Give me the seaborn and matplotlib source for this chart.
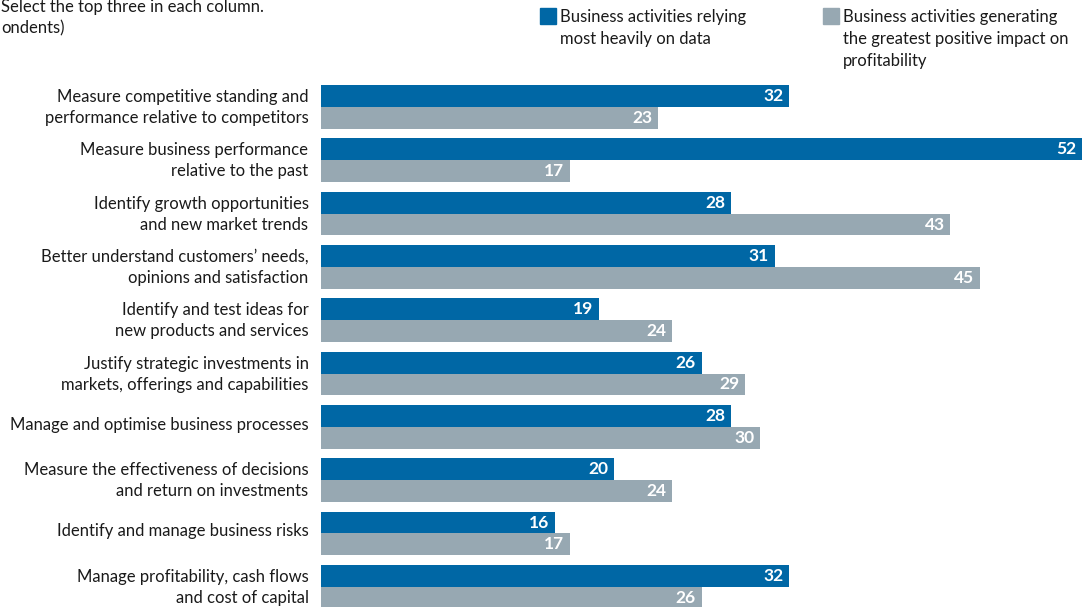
import matplotlib
matplotlib.use("Agg")
import matplotlib.pyplot as plt
import matplotlib.transforms as mtransforms
import seaborn as sns
import pandas as pd

categories = [
    "Measure competitive standing and\nperformance relative to competitors",
    "Measure business performance\nrelative to the past",
    "Identify growth opportunities\nand new market trends",
    "Better understand customers\u2019 needs,\nopinions and satisfaction",
    "Identify and test ideas for\nnew products and services",
    "Justify strategic investments in\nmarkets, offerings and capabilities",
    "Manage and optimise business processes",
    "Measure the effectiveness of decisions\nand return on investments",
    "Identify and manage business risks",
    "Manage profitability, cash flows\nand cost of capital",
]
series_names = [
    "Business activities relying\nmost heavily on data",
    "Business activities generating\nthe greatest positive impact on\nprofitability",
]
relying = [32, 52, 28, 31, 19, 26, 28, 20, 16, 32]
impact = [23, 17, 43, 45, 24, 29, 30, 24, 17, 26]
colors = ["#0067A5", "#97A8B2"]

df = pd.DataFrame({
    "Activity": categories * 2,
    "Series": [series_names[0]] * len(categories) + [series_names[1]] * len(categories),
    "Value": relying + impact,
})

sns.set_theme(style="white")
plt.rcParams["font.family"] = ["Lato", "DejaVu Sans"]

fig = plt.figure(figsize=(10.92, 6.07), dpi=100)
ax = fig.add_axes([321 / 1092, 0.0, (1082 - 321) / 1092, 1 - 85.1 / 607])

sns.barplot(data=df, y="Activity", x="Value", hue="Series", orient="h",
            palette=colors, width=0.82, ax=ax, legend=False, saturation=1,
            linewidth=0)

ax.set_xlim(0, 52)
ax.set_ylim(9.38, -0.41)
ax.set_xlabel("")
ax.set_ylabel("")
ax.set_xticks([])
for s in ax.spines.values():
    s.set_visible(False)
ax.tick_params(axis="y", length=0, pad=9, labelsize=12, labelcolor="#1a1a1a")
shift = mtransforms.ScaledTranslation(0, 2.5 / 72, fig.dpi_scale_trans)
for lbl in ax.get_yticklabels():
    lbl.set_linespacing(1.4)
    lbl.set_transform(lbl.get_transform() + shift)

for p in ax.patches:
    w = p.get_width()
    if w <= 0:
        continue
    ax.annotate(f"{int(round(w))}", (w, p.get_y() + p.get_height() / 2),
                xytext=(-4, 0), textcoords="offset points",
                ha="right", va="center", color="white",
                fontsize=12.5, fontweight="bold")

# Legend (manual, matching original placement)
fig.patches.append(plt.Rectangle((540 / 1092, 1 - 24 / 607), 16 / 1092, 16 / 607,
                                 transform=fig.transFigure, color=colors[0]))
fig.patches.append(plt.Rectangle((823 / 1092, 1 - 24 / 607), 16 / 1092, 16 / 607,
                                 transform=fig.transFigure, color=colors[1]))
fig.text(560 / 1092, 1 - 9 / 607, series_names[0], ha="left", va="top",
         fontsize=12, color="#1a1a1a", linespacing=1.45)
fig.text(843 / 1092, 1 - 9 / 607, series_names[1], ha="left", va="top",
         fontsize=12, color="#1a1a1a", linespacing=1.45)

# Subtitle
fig.text(1 / 1092, 1 - 12 / 607, "Select the top three in each column.",
         ha="left", va="baseline", fontsize=12, color="#1a1a1a")
fig.text(1 / 1092, 1 - 33 / 607, "ondents)",
         ha="left", va="baseline", fontsize=12, color="#1a1a1a")

fig.savefig("out.png", dpi=100)
